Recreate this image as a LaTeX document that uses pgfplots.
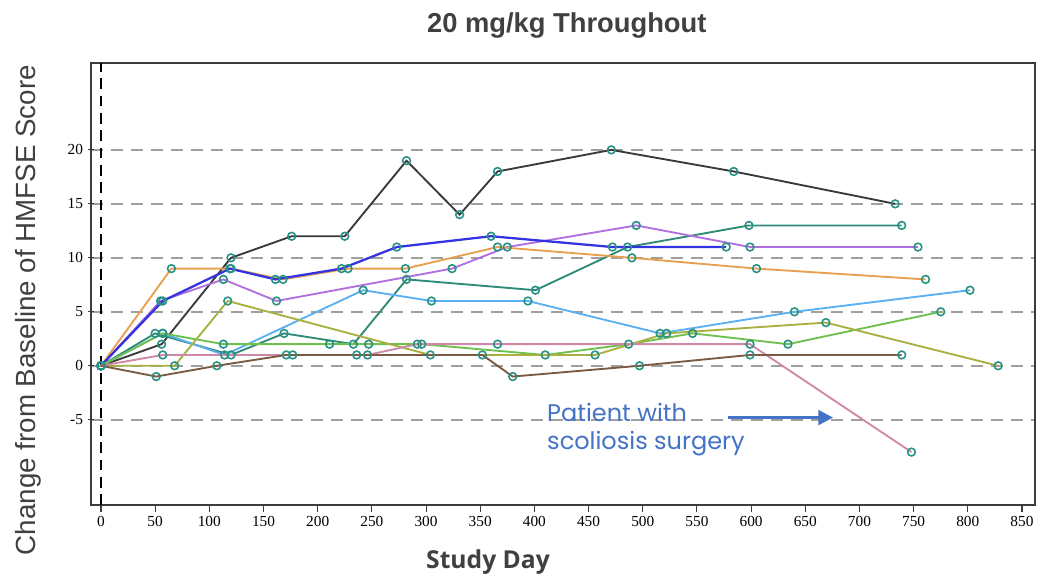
\documentclass[border=0pt]{standalone}
\usepackage{fontspec}
\setmainfont{Liberation Serif}
\newfontfamily\arialfont{Liberation Sans}
\newfontfamily\daysfont{Open Sans}
\newfontfamily\notefont{Poppins}
\usepackage{pgfplots}
\usepackage{pgfplotstable}
\pgfplotsset{compat=1.18}
\usetikzlibrary{arrows.meta}

\definecolor{txtgray}{HTML}{404040}
\definecolor{framegray}{HTML}{3C3C3C}
\definecolor{gridgray}{HTML}{A0A0A0}
\definecolor{notecol}{HTML}{4472C4}
\definecolor{mkedge}{HTML}{2A9284}
\definecolor{mkfill}{HTML}{86CFC3}
\definecolor{cblack}{HTML}{3A3A3A}
\definecolor{cblue}{HTML}{3333E0}
\definecolor{corange}{HTML}{E8A050}
\definecolor{cpurple}{HTML}{B070E0}
\definecolor{cteal}{HTML}{2E8B75}
\definecolor{clblue}{HTML}{5AB0F0}
\definecolor{cgreen}{HTML}{70C050}
\definecolor{colive}{HTML}{A8B040}
\definecolor{cpink}{HTML}{D088A8}
\definecolor{cbrown}{HTML}{7A5A40}

% study day / change from baseline, one table per patient
\pgfplotstableread{
d c
0 0
56 2
120 10
176 12
225 12
282 19
331 14
366 18
471 20
584 18
733 15
}\ptA
\pgfplotstableread{
d c
0 0
50 3
120 1
169 3
233 2
282 8
401 7
486 11
598 13
739 13
}\ptB
\pgfplotstableread{
d c
0 0
55 6
113 8
162 6
324 9
375 11
494 13
599 11
754 11
}\ptC
\pgfplotstableread{
d c
0 0
65 9
120 9
168 8
228 9
281 9
366 11
490 10
605 9
761 8
}\ptD
\pgfplotstableread{
d c
0 0
57 6
119 9
161 8
222 9
273 11
360 12
472 11
577 11
}\ptE
\pgfplotstableread{
d c
0 0
57 3
114 1
242 7
305 6
394 6
516 3
640 5
802 7
}\ptF
\pgfplotstableread{
d c
0 0
57 3
113 2
211 2
247 2
296 2
410 1
487 2
546 3
634 2
775 5
}\ptG
\pgfplotstableread{
d c
0 0
68 0
117 6
304 1
456 1
522 3
669 4
828 0
}\ptH
\pgfplotstableread{
d c
0 0
57 1
177 1
246 1
292 2
366 2
599 2
748 -8
}\ptI
\pgfplotstableread{
d c
0 0
51 -1
107 0
171 1
236 1
352 1
380 -1
497 0
599 1
739 1
}\ptJ

\begin{document}
\begin{tikzpicture}
\useasboundingbox (0,0) rectangle (780pt,433.5pt);
\begin{axis}[
  at={(68.25pt,54.75pt)}, anchor=south west,
  scale only axis,
  width=708pt, height=331.5pt,
  xmin=-9.2, xmax=862,
  ymin=-12.9, ymax=28.05,
  xtick={0,50,...,850},
  ytick={-5,0,5,10,15,20},
  tick pos=left,
  tick align=outside,
  ytick align=center,
  major tick length=5pt,
  tick style={framegray, line width=0.8pt},
  axis line style={framegray, line width=1pt},
  ymajorgrids,
  major grid style={gridgray, line width=1.4pt, dash pattern=on 9pt off 6pt},
  /pgf/number format/assume math mode=true,
  ticklabel style={font=\fontsize{11.5}{12}\selectfont, color=black},
  title={20 mg/kg Throughout},
  title style={at={(axis description cs:0.504,1.066)}, anchor=center,
    font=\arialfont\bfseries\fontsize{20.5}{22}\selectfont, color=txtgray},
  xlabel={Study Day},
  xlabel style={at={(axis description cs:0.4206,-0.129)}, anchor=center,
    font=\daysfont\bfseries\fontsize{18.5}{22}\selectfont, color=txtgray},
  ylabel={Change from Baseline of HMFSE Score},
  ylabel style={at={(axis description cs:-0.0667,0.441)}, anchor=center,
    font=\arialfont\fontsize{20.8}{22}\selectfont, color=txtgray},
  every axis plot/.append style={line width=1.4pt},
  visit/.style={only marks, mark=o, mark size=2.9pt,
    mark options={draw=mkedge, fill=mkfill, line width=1.2pt, solid}},
]
% reference line at the baseline visit
\draw[black, line width=1pt, dash pattern=on 8pt off 5pt]
  (axis cs:0,-12.9) -- (axis cs:0,28.05);

% patient trajectories
\addplot[cblack, no marks] table[x=d, y=c] {\ptA};
\addplot[cteal, no marks] table[x=d, y=c] {\ptB};
\addplot[cpurple, no marks] table[x=d, y=c] {\ptC};
\addplot[corange, no marks] table[x=d, y=c] {\ptD};
\addplot[cblue, no marks, line width=1.7pt] table[x=d, y=c] {\ptE};
\addplot[clblue, no marks] table[x=d, y=c] {\ptF};
\addplot[cgreen, no marks] table[x=d, y=c] {\ptG};
\addplot[colive, no marks] table[x=d, y=c] {\ptH};
\addplot[cpink, no marks] table[x=d, y=c] {\ptI};
\addplot[cbrown, no marks] table[x=d, y=c] {\ptJ};

% visit markers on top of all lines
\addplot[visit] table[x=d, y=c] {\ptA};
\addplot[visit] table[x=d, y=c] {\ptB};
\addplot[visit] table[x=d, y=c] {\ptC};
\addplot[visit] table[x=d, y=c] {\ptD};
\addplot[visit] table[x=d, y=c] {\ptE};
\addplot[visit] table[x=d, y=c] {\ptF};
\addplot[visit] table[x=d, y=c] {\ptG};
\addplot[visit] table[x=d, y=c] {\ptH};
\addplot[visit] table[x=d, y=c] {\ptI};
\addplot[visit] table[x=d, y=c] {\ptJ};

% note on the patient who had scoliosis surgery
\node[anchor=west, inner sep=0pt, text=notecol, font=\notefont\fontsize{18}{20}\selectfont]
  at (axis cs:411.6,-4.3) {Patient with};
\node[anchor=west, inner sep=0pt, text=notecol, font=\notefont\fontsize{18}{20}\selectfont]
  at (axis cs:411.6,-7.2) {scoliosis surgery};
\draw[notecol, line width=2.2pt, -{Triangle[length=11pt, width=11pt]}]
  (axis cs:578.7,-4.8) -- (axis cs:675.6,-4.8);
\end{axis}
\end{tikzpicture}
\end{document}
